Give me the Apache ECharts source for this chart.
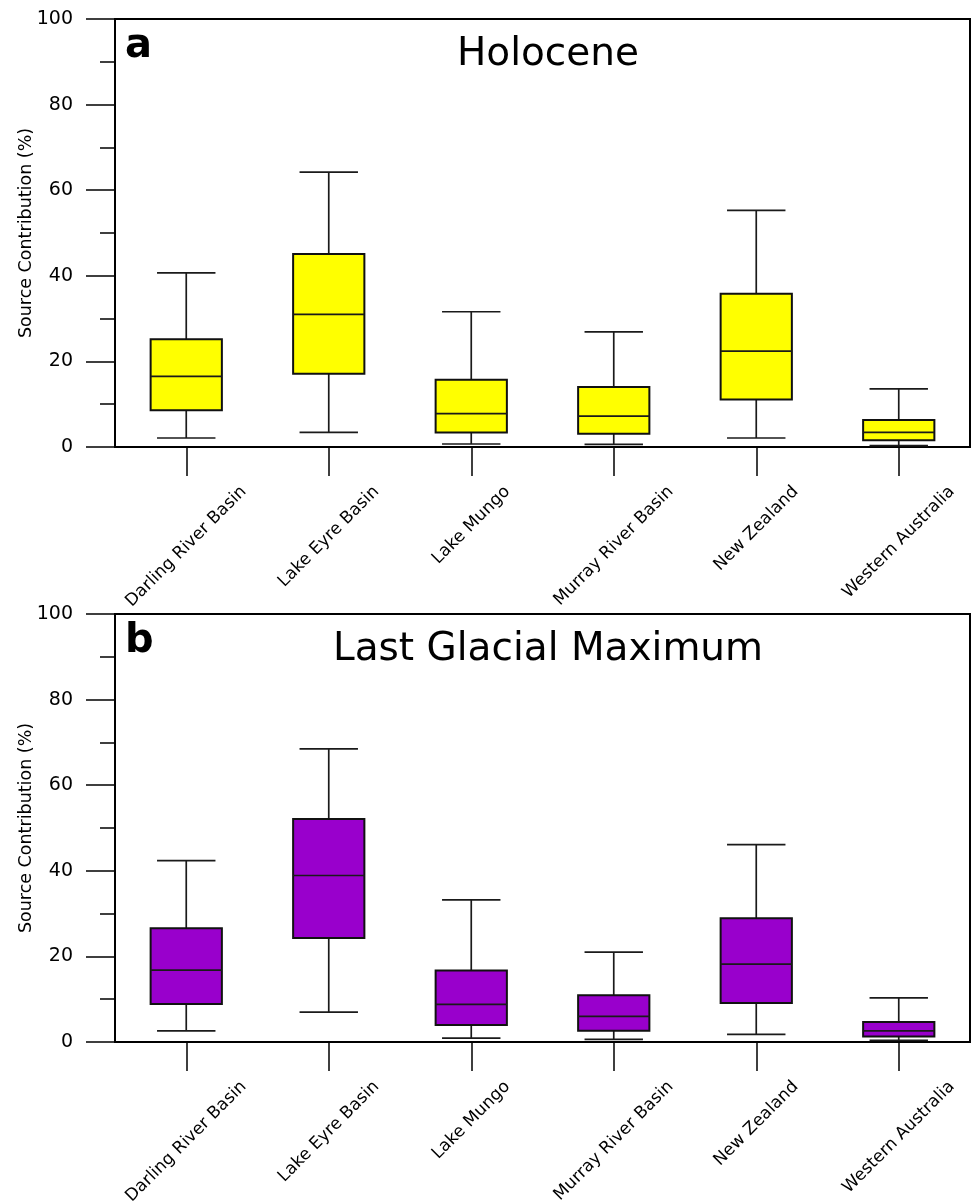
<!DOCTYPE html>
<html>
<head>
<meta charset="utf-8">
<script src="https://cdn.jsdelivr.net/npm/echarts@6/dist/echarts.min.js"></script>
<style>
  html, body { margin: 0; padding: 0; background: #fff; }
  #chart { width: 971px; height: 1203px; }
</style>
</head>
<body>
<div id="chart"></div>
<script>
const sites = ['Darling River Basin', 'Lake Eyre Basin', 'Lake Mungo', 'Murray River Basin', 'New Zealand', 'Western Australia'];
// each row: [min, q1, median, q3, max]
const holocene = [
  [2.1, 8.6, 16.5, 25.2, 40.7],
  [3.4, 17.1, 31.0, 45.1, 64.2],
  [0.7, 3.4, 7.8, 15.7, 31.6],
  [0.6, 3.1, 7.2, 14.0, 26.9],
  [2.1, 11.1, 22.4, 35.8, 55.3],
  [0.3, 1.6, 3.4, 6.3, 13.6]
];
const lgm = [
  [2.6, 8.9, 16.8, 26.6, 42.4],
  [7.0, 24.3, 38.9, 52.1, 68.5],
  [0.9, 4.0, 8.8, 16.7, 33.2],
  [0.6, 2.6, 6.0, 10.9, 21.0],
  [1.8, 9.1, 18.2, 28.9, 46.1],
  [0.4, 1.3, 2.6, 4.7, 10.3]
];
const yMin = 0, yMax = 100, yStep = 20;
const panelTitles = ['Holocene', 'Last Glacial Maximum'];
const panelLetters = ['a', 'b'];
const yName = 'Source Contribution (%)';

const FONT = 'DejaVu Sans';
const catFontSize = 17;

// rotated labels: centred on their tick, all hanging from the same top line
const ctx = document.createElement('canvas').getContext('2d');
ctx.font = catFontSize + 'px "' + FONT + '"';
const catData = sites.map(s => {
  const p = (ctx.measureText(s).width + catFontSize) / 2;
  return {
    value: s,
    textStyle: {
      align: 'center', verticalAlign: 'top', lineHeight: p,
      fontFamily: FONT, fontSize: catFontSize, color: '#000',
      padding: [0, p, 0, 0]
    }
  };
});

function boxItem(color) {
  return function (params, api) {
    const x = api.value(0);
    const lo = api.coord([x, api.value(1)]);
    const q1 = api.coord([x, api.value(2)]);
    const med = api.coord([x, api.value(3)]);
    const q3 = api.coord([x, api.value(4)]);
    const hi = api.coord([x, api.value(5)]);
    const band = api.size([1, 0])[0];
    const bw = band * 0.5, cw = band * 0.41;
    const cx = lo[0];
    const ln = { stroke: '#1a1a1a', lineWidth: 1.7 };
    return {
      type: 'group',
      children: [
        { type: 'line', shape: { x1: cx, y1: q3[1], x2: cx, y2: hi[1] }, style: ln },
        { type: 'line', shape: { x1: cx, y1: lo[1], x2: cx, y2: q1[1] }, style: ln },
        { type: 'line', shape: { x1: cx - cw / 2, y1: hi[1], x2: cx + cw / 2, y2: hi[1] }, style: ln },
        { type: 'line', shape: { x1: cx - cw / 2, y1: lo[1], x2: cx + cw / 2, y2: lo[1] }, style: ln },
        { type: 'rect', shape: { x: cx - bw / 2, y: q3[1], width: bw, height: q1[1] - q3[1] },
          style: { fill: color, stroke: '#111', lineWidth: 2 } },
        { type: 'line', shape: { x1: cx - bw / 2, y1: med[1], x2: cx + bw / 2, y2: med[1] }, style: ln }
      ]
    };
  };
}

const gridTops = [19, 614];
const colors = ['#ffff00', '#9900cc'];
const datasets = [holocene, lgm];

const chart = echarts.init(document.getElementById('chart'), null, { renderer: 'canvas' });

chart.setOption({
  backgroundColor: '#fff',
  animation: false,
  textStyle: { fontFamily: FONT, color: '#000' },
  title: [0, 1].flatMap(i => [
    {
      text: panelTitles[i], left: 543, top: gridTops[i] + 11, textAlign: 'center',
      textStyle: { fontFamily: FONT, fontSize: 39, fontWeight: 'normal', color: '#000' }
    },
    {
      text: panelLetters[i], left: 120, top: gridTops[i] + 3,
      textStyle: { fontFamily: FONT, fontSize: 40, fontWeight: 'bold', color: '#000' }
    }
  ]),
  grid: gridTops.map(t => ({
    left: 115, right: 1, top: t, height: 428,
    outerBoundsMode: 'none', containLabel: false,
    show: true, borderColor: '#000', borderWidth: 2, backgroundColor: 'transparent'
  })),
  xAxis: [0, 1].map(i => ({
    type: 'category', gridIndex: i, data: catData, boundaryGap: true,
    axisLine: { show: true, lineStyle: { color: '#000', width: 2 } },
    axisTick: { show: true, alignWithLabel: true, interval: 0, length: 29, lineStyle: { color: '#000', width: 1.5 } },
    axisLabel: {
      interval: 0, rotate: 45, margin: 36, align: 'center', verticalAlign: 'middle',
      fontFamily: FONT, fontSize: catFontSize, color: '#000', hideOverlap: false
    },
    splitLine: { show: false }
  })),
  yAxis: [0, 1].map(i => ({
    type: 'value', gridIndex: i, min: yMin, max: yMax, interval: yStep,
    name: yName, nameLocation: 'middle', nameGap: 80, nameMoveOverlap: false,
    nameTextStyle: { fontFamily: FONT, fontSize: 17.5, color: '#000' },
    axisLine: { show: true, lineStyle: { color: '#000', width: 2 } },
    axisTick: { show: true, length: 29, lineStyle: { color: '#000', width: 1.5 } },
    minorTick: { show: true, splitNumber: 2, length: 15, lineStyle: { color: '#000', width: 1.5 } },
    axisLabel: { margin: 42, fontFamily: FONT, fontSize: 19, color: '#000' },
    splitLine: { show: false }
  })),
  series: [0, 1].map(i => ({
    type: 'custom', xAxisIndex: i, yAxisIndex: i,
    renderItem: boxItem(colors[i]),
    encode: { x: 0, y: [1, 2, 3, 4, 5] },
    data: datasets[i].map((r, k) => [k].concat(r))
  }))
});
</script>
</body>
</html>
